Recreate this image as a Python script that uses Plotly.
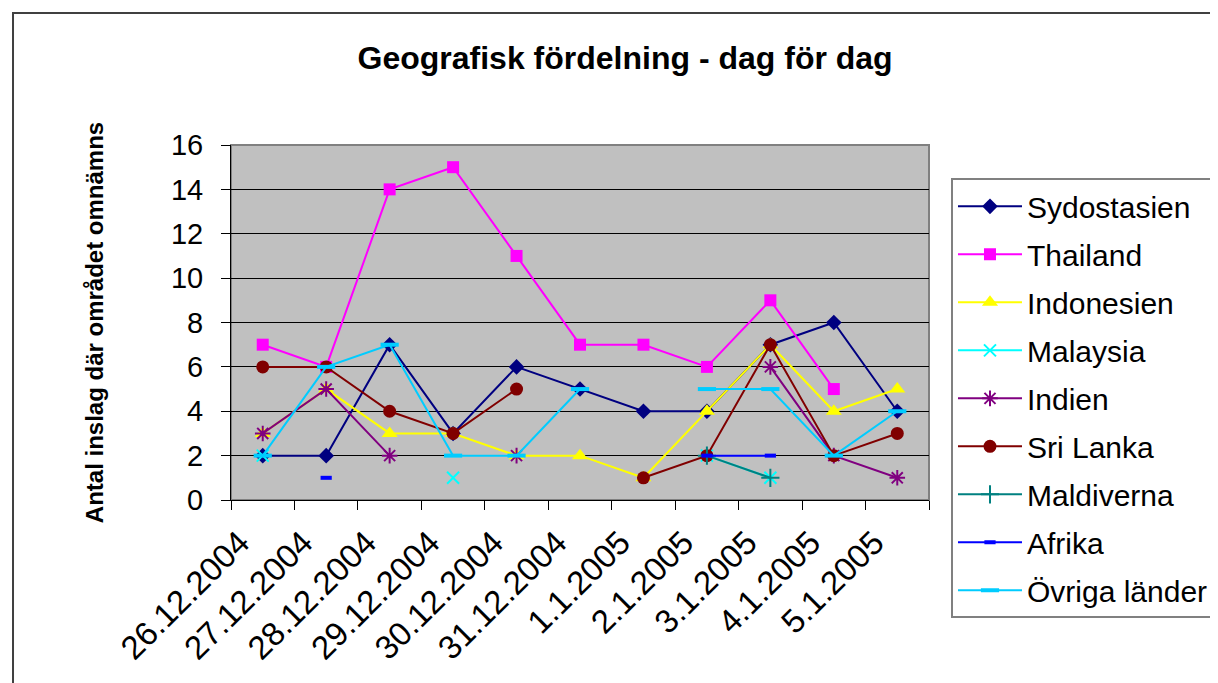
import plotly.graph_objects as go

# categories (days)
dagar = ["26.12.2004", "27.12.2004", "28.12.2004", "29.12.2004", "30.12.2004", "31.12.2004",
         "1.1.2005", "2.1.2005", "3.1.2005", "4.1.2005", "5.1.2005"]

# values, None = no value that day
sydostasien = [2, 2, 7, 3, 6, 5, 4, 4, 7, 8, 4]
thailand = [7, 6, 14, 15, 11, 7, 7, 6, 9, 5, None]
indonesien = [3, 5, 3, 3, 2, 2, 1, 4, 7, 4, 5]
malaysia = [2, None, None, 1, None, None, None, 2, 1, None, None]
indien = [3, 5, 2, None, 2, None, None, None, 6, 2, 1]
sri_lanka = [6, 6, 4, 3, 5, None, 1, 2, 7, 2, 3]
maldiverna = [None, None, None, None, None, None, None, 2, 1, None, None]
afrika = [None, 1, None, None, None, None, None, 2, 2, None, None]
ovriga = [2, 6, 7, 2, 2, 5, None, 5, 5, 2, 4]

# name, values, colour, symbol, marker size, stroke width
serier = [
    ("Sydostasien", sydostasien, "#000080", "diamond", 12, 0),
    ("Thailand", thailand, "#FF00FF", "square", 12, 0),
    ("Indonesien", indonesien, "#FFFF00", "triangle-up", 14, 0),
    ("Malaysia", malaysia, "#00FFFF", "x-thin-open", 12, 2),
    ("Indien", indien, "#800080", "asterisk-open", 13, 2),
    ("Sri Lanka", sri_lanka, "#800000", "circle", 13, 0),
    ("Maldiverna", maldiverna, "#008080", "cross-thin-open", 13, 2),
    ("Afrika", afrika, "#0000FF", "line-ew-open", 8, 4),
    ("Övriga länder", ovriga, "#00CCFF", "line-ew-open", 13, 4),
]

FONT = "Liberation Sans, Arial, sans-serif"

fig = go.Figure()
for i, (namn, vals, farg, sym, size, lw) in enumerate(serier):
    fig.add_trace(go.Scatter(
        x=dagar, y=vals, name=namn, mode="lines+markers",
        line=dict(color=farg, width=2),
        marker=dict(symbol=sym, size=size, color=farg, line=dict(color=farg, width=lw)),
        legendgroup="g{}".format(i),
    ))

# outer chart border + plot area border
fig.add_shape(type="rect", xref="paper", yref="paper", x0=-0.3123, x1=1.6, y0=-0.7, y1=1.372,
              line=dict(color="#404040", width=2), layer="below")
fig.add_shape(type="rect", xref="paper", yref="paper", x0=0, x1=1, y0=0, y1=1,
              line=dict(color="#808080", width=2), layer="below")

fig.update_xaxes(type="category", categoryorder="array", categoryarray=dagar,
                 range=[-0.5, 10.5], tickson="boundaries", ticks="outside", ticklen=9,
                 tickcolor="black", showline=True, linecolor="black", linewidth=1,
                 showgrid=False, tickangle=-45, ticklabelstandoff=9, ticklabelshift=-23,
                 tickfont=dict(size=33, color="black", family=FONT))
fig.update_yaxes(range=[0, 16], dtick=2, ticks="outside", ticklen=9, tickcolor="black",
                 showline=True, linecolor="black", linewidth=1, gridcolor="black", gridwidth=1,
                 zeroline=False, ticklabelstandoff=12,
                 tickfont=dict(size=29, color="black", family=FONT),
                 title=dict(text="<b>Antal inslag där området omnämns</b>", standoff=60,
                            font=dict(size=24, color="black", family=FONT)))

fig.update_layout(
    width=1210, height=675,
    margin=dict(l=223, r=289, t=137, b=183, autoexpand=False),
    paper_bgcolor="white", plot_bgcolor="#C0C0C0",
    title=dict(text="<b>Geografisk fördelning - dag för dag</b>", x=0.51, xanchor="center",
               y=0.926, yanchor="middle", font=dict(size=32, color="black", family=FONT)),
    legend=dict(x=1.0315, y=0.906, xanchor="left", yanchor="top", bgcolor="white",
                bordercolor="#808080", borderwidth=2, itemwidth=64, tracegroupgap=6,
                maxheight=600, font=dict(size=30, color="black", family=FONT)),
    showlegend=True,
)

fig.write_html("out.html")
